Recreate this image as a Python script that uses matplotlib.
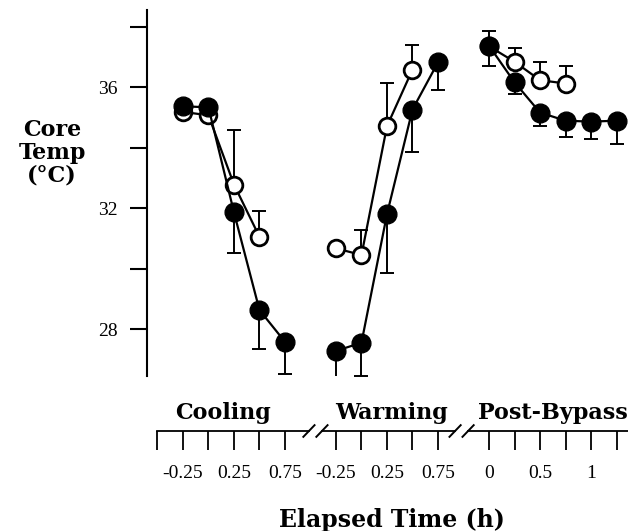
import matplotlib
matplotlib.use("Agg")
import matplotlib.pyplot as plt
import numpy as np

plt.rcParams['font.family'] = ['Liberation Serif', 'DejaVu Serif']

# ---- data (hours within each phase, core temperature in °C) ----
cool_t = [-0.25, 0.0, 0.25, 0.5, 0.75]
cool_filled = [35.37, 35.33, 31.86, 28.63, 27.58]
cool_filled_err = [0.0, 0.0, 1.36, 1.29, 1.05]
cool_open_t = [-0.25, 0.0, 0.25, 0.5]
cool_open = [35.18, 35.07, 32.78, 31.05]
cool_open_err = [0.0, 0.0, 1.80, 0.85]

warm_t = [-0.25, 0.0, 0.25, 0.5, 0.75]
warm_filled = [27.28, 27.55, 31.80, 35.26, 36.82]
warm_filled_err = [1.22, 1.09, 1.94, 1.42, 0.90]
warm_open_t = [-0.25, 0.0, 0.25, 0.5]
warm_open = [30.67, 30.45, 34.71, 36.58]
warm_open_err = [0.0, 0.82, 1.43, 0.81]

post_t = [0.0, 0.25, 0.5, 0.75, 1.0, 1.25]
post_filled = [37.37, 36.16, 35.16, 34.89, 34.86, 34.89]
post_filled_err = [0.68, 0.39, 0.45, 0.53, 0.59, 0.77]
post_open_t = [0.0, 0.25, 0.5, 0.75]
post_open = [37.35, 36.84, 36.23, 36.12]
post_open_err = [0.50, 0.47, 0.59, 0.59]

phase_names = ["Cooling", "Warming", "Post-Bypass"]
phase_offsets = [1, 7, 12]          # axis slot of t=0 in each phase
phase_ticks = [[-0.5, -0.25, 0, 0.25, 0.5, 0.75],
               [-0.25, 0, 0.25, 0.5, 0.75],
               [0, 0.25, 0.5, 0.75, 1.0, 1.25]]
phase_labels = [{-0.25: "-0.25", 0.25: "0.25", 0.75: "0.75"},
                {-0.25: "-0.25", 0.25: "0.25", 0.75: "0.75"},
                {0: "0", 0.5: "0.5", 1.0: "1"}]
y_ticks = [28, 30, 32, 34, 36, 38]
y_labels = {28: "28", 32: "32", 36: "36"}

def pos(t, phase):
    return np.asarray(t) / 0.25 + phase_offsets[phase]

W, H = 628, 531
fig = plt.figure(figsize=(W / 100, H / 100), dpi=100)
ax = fig.add_axes([147 / W, 1 - 376 / H, (W - 147) / W, (376 - 10) / H])
ax.set_xlim(-1.41, 17.45)
ax.set_ylim(26.45, 38.55)

lw = 1.6
for ph, (tf, yf, ef, to, yo, eo) in enumerate([
        (cool_t, cool_filled, cool_filled_err, cool_open_t, cool_open, cool_open_err),
        (warm_t, warm_filled, warm_filled_err, warm_open_t, warm_open, warm_open_err),
        (post_t, post_filled, post_filled_err, post_open_t, post_open, post_open_err)]):
    xo = pos(to, ph)
    xf = pos(tf, ph)
    ax.errorbar(xo, yo, yerr=[np.zeros(len(eo)), eo], fmt='none', ecolor='black',
                elinewidth=1.4, capsize=4.8, capthick=1.4, zorder=1)
    ax.errorbar(xf, yf, yerr=[ef, np.zeros(len(ef))], fmt='none', ecolor='black',
                elinewidth=1.4, capsize=4.8, capthick=1.4, zorder=1)
    ax.plot(xo, yo, '-', color='black', lw=lw, marker='o', ms=12,
            mfc='white', mec='black', mew=2.0, zorder=3)
    ax.plot(xf, yf, '-', color='black', lw=lw, marker='o', ms=13.5,
            mfc='black', mec='black', zorder=4)

for s in ['top', 'right', 'bottom']:
    ax.spines[s].set_visible(False)
ax.spines['left'].set_linewidth(1.5)
ax.set_xticks([])
ax.set_yticks(y_ticks)
ax.set_yticklabels([y_labels.get(v, "") for v in y_ticks])
ax.tick_params(axis='y', direction='out', length=12, width=1.5, pad=9, labelsize=14)

# ---- time axis ----
ax2 = fig.add_axes([147 / W, 1 - 431 / H, (W - 147) / W, 0.05])
ax2.set_xlim(ax.get_xlim())
ax2.set_ylim(0, 1)
for s in ax2.spines.values():
    s.set_visible(False)
ax2.set_yticks([])
ticks, labels = [], []
for ph in range(3):
    for t in phase_ticks[ph]:
        ticks.append(float(pos(t, ph)))
        labels.append(phase_labels[ph].get(t, ""))
ax2.set_xticks(ticks)
ax2.set_xticklabels(labels)
ax2.tick_params(axis='x', direction='out', length=13.5, width=1.3, pad=11, labelsize=14)

# axis line segments with break marks
segs = [(ticks[0], 4.94), (5.45, 10.67), (11.18, 17.45)]
for a, b in segs:
    ax2.plot([a, b], [0, 0], color='black', lw=1.3, clip_on=False, solid_capstyle='projecting')
for bx in [4.94, 5.45, 10.67, 11.18]:
    ax2.plot([bx - 0.22, bx + 0.22], [-0.22, 0.22], color='black', lw=1.4, clip_on=False)

bold = dict(fontweight='bold', family=['DejaVu Serif'])
# phase titles
for ph, xc in zip(range(3), [223, 391.7, 553]):
    fig.text(xc / W, 1 - 413 / H, phase_names[ph], ha='center', va='center',
             fontsize=16, **bold)
fig.text(391.7 / W, 1 - 520 / H, "Elapsed Time (h)", ha='center', va='center',
         fontsize=17, **bold)
fig.text(52 / W, 1 - 153 / H, "Core\nTemp\n(°C)", ha='center', va='center',
         multialignment='center', fontsize=16, linespacing=1.05, **bold)

fig.savefig("out.png", dpi=100)
